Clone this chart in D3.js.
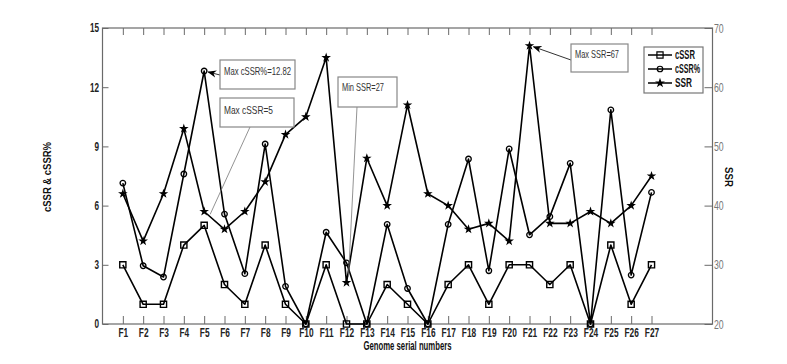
<!DOCTYPE html>
<html><head><meta charset="utf-8">
<script src="https://cdn.jsdelivr.net/npm/d3@7/dist/d3.min.js"></script>
<style>
body{margin:0;background:#fff;}
svg{display:block;}
text{font-family:"Liberation Sans",Arial,sans-serif;}
</style>
</head><body>
<svg id="chart" width="787" height="364"></svg>
<script>
const categories = ["F1","F2","F3","F4","F5","F6","F7","F8","F9","F10","F11","F12","F13","F14","F15","F16","F17","F18","F19","F20","F21","F22","F23","F24","F25","F26","F27"];
const cSSR = [3,1,1,4,5,2,1,4,1,0,3,0,0,2,1,0,2,3,1,3,3,2,3,0,4,1,3];
const cSSRpct = [7.14,2.95,2.38,7.6,12.82,5.57,2.55,9.12,1.91,0,4.65,3.1,0,5.05,1.8,0,5.05,8.36,2.7,8.87,4.52,5.44,8.14,0,10.85,2.48,6.67];
const SSR = [42,34,42,53,39,36,39,44,52,55,65,27,48,40,57,42,40,36,37,34,67,37,37,39,37,40,45];
const leftTicks = [0,3,6,9,12,15];
const rightTicks = [20,30,40,50,60,70];
const annotations = [
  {text:"Max cSSR%=12.82", series:"pct", idx:4},
  {text:"Max cSSR=5", series:"cssr", idx:4},
  {text:"Min SSR=27", series:"ssr", idx:11},
  {text:"Max SSR=67", series:"ssr", idx:20}
];

const svg = d3.select("#chart");
const L=102.5, R=712.5, T=28, B=324;
const x = d3.scaleLinear().domain([0,30]).range([L,R]);
const yL = d3.scaleLinear().domain([0,15]).range([B,T]);
const yR = d3.scaleLinear().domain([20,70]).range([B,T]);
const axisColor="#6a6a6a";

svg.append("rect").attr("x",L).attr("y",T).attr("width",R-L).attr("height",B-T)
  .attr("fill","none").attr("stroke",axisColor).attr("stroke-width",1.2);

const xs = categories.map((c,i)=>i+1);
const gB = svg.append("g").attr("transform",`translate(0,${B})`)
  .call(d3.axisBottom(x).tickValues(xs).tickFormat((d,i)=>categories[i]).tickSizeInner(-8).tickSizeOuter(0).tickPadding(4));
const gT = svg.append("g").attr("transform",`translate(0,${T})`)
  .call(d3.axisTop(x).tickValues(xs).tickFormat("").tickSizeInner(-7).tickSizeOuter(0));
const gLft = svg.append("g").attr("transform",`translate(${L},0)`)
  .call(d3.axisLeft(yL).tickValues(leftTicks).tickSizeInner(-6).tickSizeOuter(0).tickPadding(5));
const gRgt = svg.append("g").attr("transform",`translate(${R},0)`)
  .call(d3.axisRight(yR).tickValues(rightTicks).tickSizeInner(-8).tickSizeOuter(0).tickPadding(2));
[gB,gT,gLft,gRgt].forEach(g=>{
  g.select(".domain").remove();
  g.selectAll(".tick line").attr("stroke",axisColor).attr("stroke-width",1);
  g.selectAll("text").attr("font-family","Liberation Sans, Arial, sans-serif").attr("fill","#222");
});
gB.selectAll("text").attr("font-weight","bold").attr("font-size",13).attr("transform","scale(0.64,1)");
gLft.selectAll("text").attr("font-weight","bold").attr("font-size",12).attr("transform","scale(0.68,1)");
gRgt.selectAll("text").attr("fill","#777").attr("font-size",12.5).attr("transform","scale(0.7,1)");

const lineL = d3.line().x((d,i)=>x(i+1)).y(d=>yL(d));
const lineR = d3.line().x((d,i)=>x(i+1)).y(d=>yR(d));
[[cSSR,lineL],[cSSRpct,lineL],[SSR,lineR]].forEach(([d,ln])=>{
  svg.append("path").datum(d).attr("d",ln).attr("fill","none").attr("stroke","#000").attr("stroke-width",1.6).attr("stroke-linejoin","round");
});

const sqSym = d3.symbol().type(d3.symbolSquare).size(38);
const ciSym = d3.symbol().type(d3.symbolCircle).size(24);
const stSym = d3.symbol().type(d3.symbolStar).size(12);
function markers(data, y, sym, fill, sw){
  svg.append("g").selectAll("path").data(data).join("path")
    .attr("d",sym).attr("transform",(d,i)=>`translate(${x(i+1)},${y(d)})`)
    .attr("fill",fill).attr("stroke","#000").attr("stroke-width",sw);
}
markers(cSSR,yL,sqSym,"none",1.4);
markers(cSSRpct,yL,ciSym,"none",1.3);
markers(SSR,yR,stSym,"#000",1.1);

function pt(a){
  const i=a.idx;
  if(a.series==="pct") return [x(i+1),yL(cSSRpct[i])];
  if(a.series==="cssr") return [x(i+1),yL(cSSR[i])];
  return [x(i+1),yR(SSR[i])];
}
const boxes = [
  {x:220,y:60,w:75,h:29, from:[220,75], toOff:[4,1], arrow:true, tl:67, by:15},
  {x:220,y:98,w:74,h:29, from:[250,127], toOff:[6,-11], arrow:false, tl:49, by:16},
  {x:338,y:77,w:59,h:30, from:[357,107], toOff:[2,-6], arrow:false, tl:42, by:14},
  {x:571,y:44,w:57,h:28, from:[571,60], toOff:[4,1], arrow:true, tl:44, by:14}
];
const defs = svg.append("defs");
defs.append("marker").attr("id","ah").attr("viewBox","0 0 10 10").attr("refX",9).attr("refY",5)
  .attr("markerWidth",9).attr("markerHeight",9).attr("markerUnits","userSpaceOnUse").attr("orient","auto")
  .append("path").attr("d","M0,1 L10,5 L0,9 L3,5 Z").attr("fill","#000");
annotations.forEach((a,k)=>{
  const b=boxes[k]; const p=pt(a);
  svg.append("line").attr("x1",b.from[0]).attr("y1",b.from[1])
    .attr("x2",p[0]+b.toOff[0]).attr("y2",p[1]+b.toOff[1])
    .attr("stroke",b.arrow?"#333":"#777").attr("stroke-width",b.arrow?1:0.8)
    .attr("marker-end",b.arrow?"url(#ah)":null);
  svg.append("rect").attr("x",b.x).attr("y",b.y).attr("width",b.w).attr("height",b.h)
    .attr("fill","#fff").attr("stroke","#888").attr("stroke-width",1.2);
  svg.append("text").attr("x",b.x+4).attr("y",b.y+b.by)
    .attr("font-size",11.5).attr("fill","#333")
    .attr("textLength",b.tl).attr("lengthAdjust","spacingAndGlyphs").text(a.text);
});

const lg = svg.append("g");
lg.append("rect").attr("x",644).attr("y",47).attr("width",59).attr("height",46)
  .attr("fill","#fff").attr("stroke","#777").attr("stroke-width",1.2);
const legendItems=[["cSSR",sqSym,"none",20],["cSSR%",ciSym,"none",25],["SSR",stSym,"#000",17]];
legendItems.forEach((it,i)=>{
  const yy=55+i*14;
  lg.append("line").attr("x1",648).attr("x2",672).attr("y1",yy).attr("y2",yy).attr("stroke","#000").attr("stroke-width",1.5);
  lg.append("path").attr("d",it[1]).attr("transform",`translate(660,${yy})`).attr("fill",it[2]).attr("stroke","#000").attr("stroke-width",1.2);
  lg.append("text").attr("x",675).attr("y",yy+4).attr("font-size",12).attr("font-weight","bold").attr("fill","#111")
    .attr("textLength",it[3]).attr("lengthAdjust","spacingAndGlyphs").text(it[0]);
});

svg.append("text").attr("transform",`translate(51,${(T+B)/2+1}) rotate(-90)`).attr("text-anchor","middle")
  .attr("font-weight","bold").attr("font-size",10.5).attr("fill","#111")
  .attr("textLength",70).attr("lengthAdjust","spacingAndGlyphs").text("cSSR & cSSR%");
svg.append("text").attr("transform",`translate(725,177) rotate(90)`).attr("text-anchor","middle")
  .attr("font-weight","bold").attr("font-size",10.5).attr("fill","#111")
  .attr("textLength",20).attr("lengthAdjust","spacingAndGlyphs").text("SSR");
svg.append("text").attr("x",(L+R)/2).attr("y",350).attr("text-anchor","middle")
  .attr("font-weight","bold").attr("font-size",12.5).attr("fill","#111")
  .attr("textLength",88).attr("lengthAdjust","spacingAndGlyphs").text("Genome serial numbers");
</script>
</body></html>
